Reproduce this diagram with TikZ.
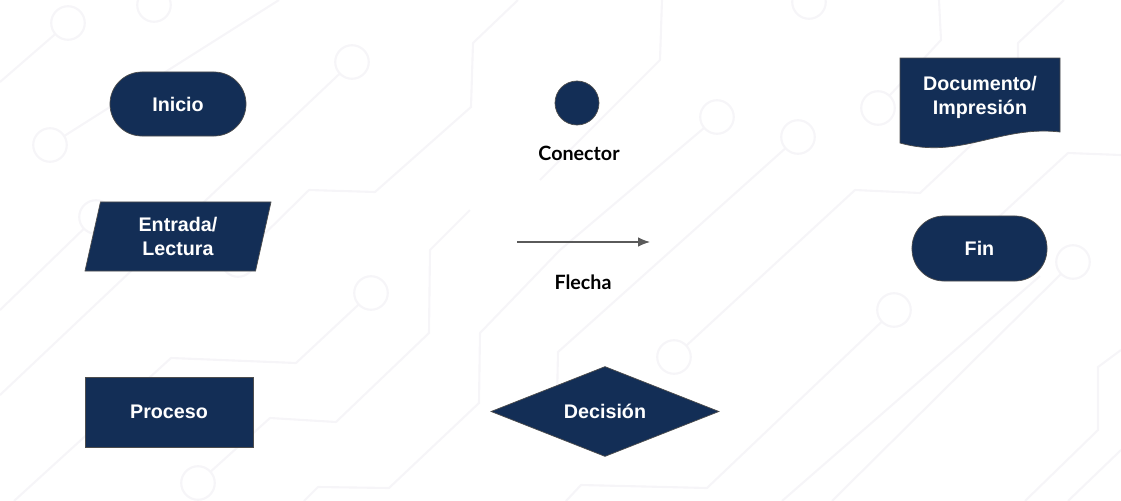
\documentclass[tikz,border=0pt]{standalone}
\usepackage{fontspec}
\setmainfont{Liberation Sans}
\newfontfamily\lblfont{Lato}
\usetikzlibrary{shapes.geometric, arrows.meta}

\definecolor{navy}{HTML}{132E56}
\definecolor{navyedge}{HTML}{4D4D4D}
\definecolor{trace}{HTML}{F6F5F8}
\definecolor{arrgray}{HTML}{5A5A5A}

\begin{document}
\begin{tikzpicture}[
    x=0.025cm, y=-0.025cm,
    trc/.style={draw=trace, line width=1.5pt},
    pad/.style={trc, fill=white},
    fc/.style={fill=navy, draw=navyedge, line width=0.5pt, text=white,
        font=\bfseries\fontsize{14}{17}\selectfont, align=center, inner sep=0pt},
    term/.style={fc, rectangle, rounded corners=0.8cm},
    lbl/.style={font=\lblfont\bfseries\fontsize{14}{17}\selectfont, text=black},
    arr/.style={-{Latex[length=0.3cm, width=0.24cm]}, arrgray, line width=0.9pt},
]

\useasboundingbox (0,0) rectangle (1121,501);

% --- Background circuit traces ---
\draw[trc] (0,82) -- (68,23);
\draw[trc] (279,0) -- (50,145);
\draw[trc] (0,395) -- (352,62);
\draw[trc] (0,310) -- (96,217);
\draw[trc] (14,501) -- (171,358) -- (296,363) -- (371,293);
\draw[trc] (518,0) -- (473,43) -- (471,107) -- (375,192) -- (309,190) -- (238,260);
\draw[trc] (717,117) -- (560,250) -- (480,333) -- (479,403) -- (389,488)
    -- (318,487) -- (304,501);
\draw[trc] (470,210) -- (430,250) -- (429,333) -- (336,422) -- (270,418) -- (198,483);
\draw[trc] (662,0) -- (660,60) -- (540,180);
\draw[trc] (798,137) -- (558,352) -- (557,400);
\draw[trc] (674,357) -- (855,190) -- (920,193) -- (1000,118);
\draw[trc] (939,0) -- (941,40) -- (878,108);
\draw[trc] (1064,0) -- (1018,43) -- (1018,80);
\draw[trc] (1121,155) -- (1068,153) -- (990,225);
\draw[trc] (894,310) -- (707,488) -- (581,485) -- (566,501);
\draw[trc] (1073,262) -- (832,501);
\draw[trc] (1121,350) -- (1098,367) -- (1098,430) -- (1025,501);
\draw[trc] (1040,276) -- (782,501);
\draw[trc] (1121,450) -- (1068,501);

% pads
\foreach \x/\y in {68/23, 154/5, 50/145, 352/62, 96/217, 371/293, 238/260,
    198/483, 717/117, 798/137, 674/357, 878/108, 894/310, 1073/262, 809/2} {
    \draw[pad] (\x,\y) circle[radius=0.42cm];
}

% --- Left column ---
\node[term, minimum width=3.4cm, minimum height=1.6cm] (inicio) at (178,104) {Inicio};

\node[fc, trapezium, trapezium left angle=68, trapezium right angle=112,
      trapezium stretches body, minimum width=4.65cm, minimum height=1.725cm]
    (entrada) at (178,236.5) {Entrada/\\Lectura};

\node[fc, rectangle, minimum width=4.2cm, minimum height=1.75cm]
    (proceso) at (169,412) {Proceso};

% --- Middle column ---
\node[fc, circle, minimum size=1.1cm] (conector) at (577,103) {};
\node[lbl] (conlbl) at (579,153) {Conector};

\coordinate (fa) at (517,242);
\coordinate (fb) at (650,242);
\draw[arr] (fa) -- (fb);
\node[lbl] (flelbl) at (583,282) {Flecha};

\node[fc, diamond, aspect=2.5, minimum width=5.7cm, minimum height=2.25cm]
    (decision) at (605,411.5) {Decisión};

% --- Right column ---
\draw[fill=navy, draw=navyedge, line width=0.5pt]
    (900,58) -- (1060,58) -- (1060,132)
    .. controls (1000,125) and (960,160) .. (900,143) -- cycle;
\node[text=white, font=\bfseries\fontsize{14}{17}\selectfont, align=center]
    (documento) at (980,97) {Documento/\\Impresión};

\node[term, minimum width=3.375cm, minimum height=1.625cm] (fin) at (979.5,248.5) {Fin};

\end{tikzpicture}
\end{document}
